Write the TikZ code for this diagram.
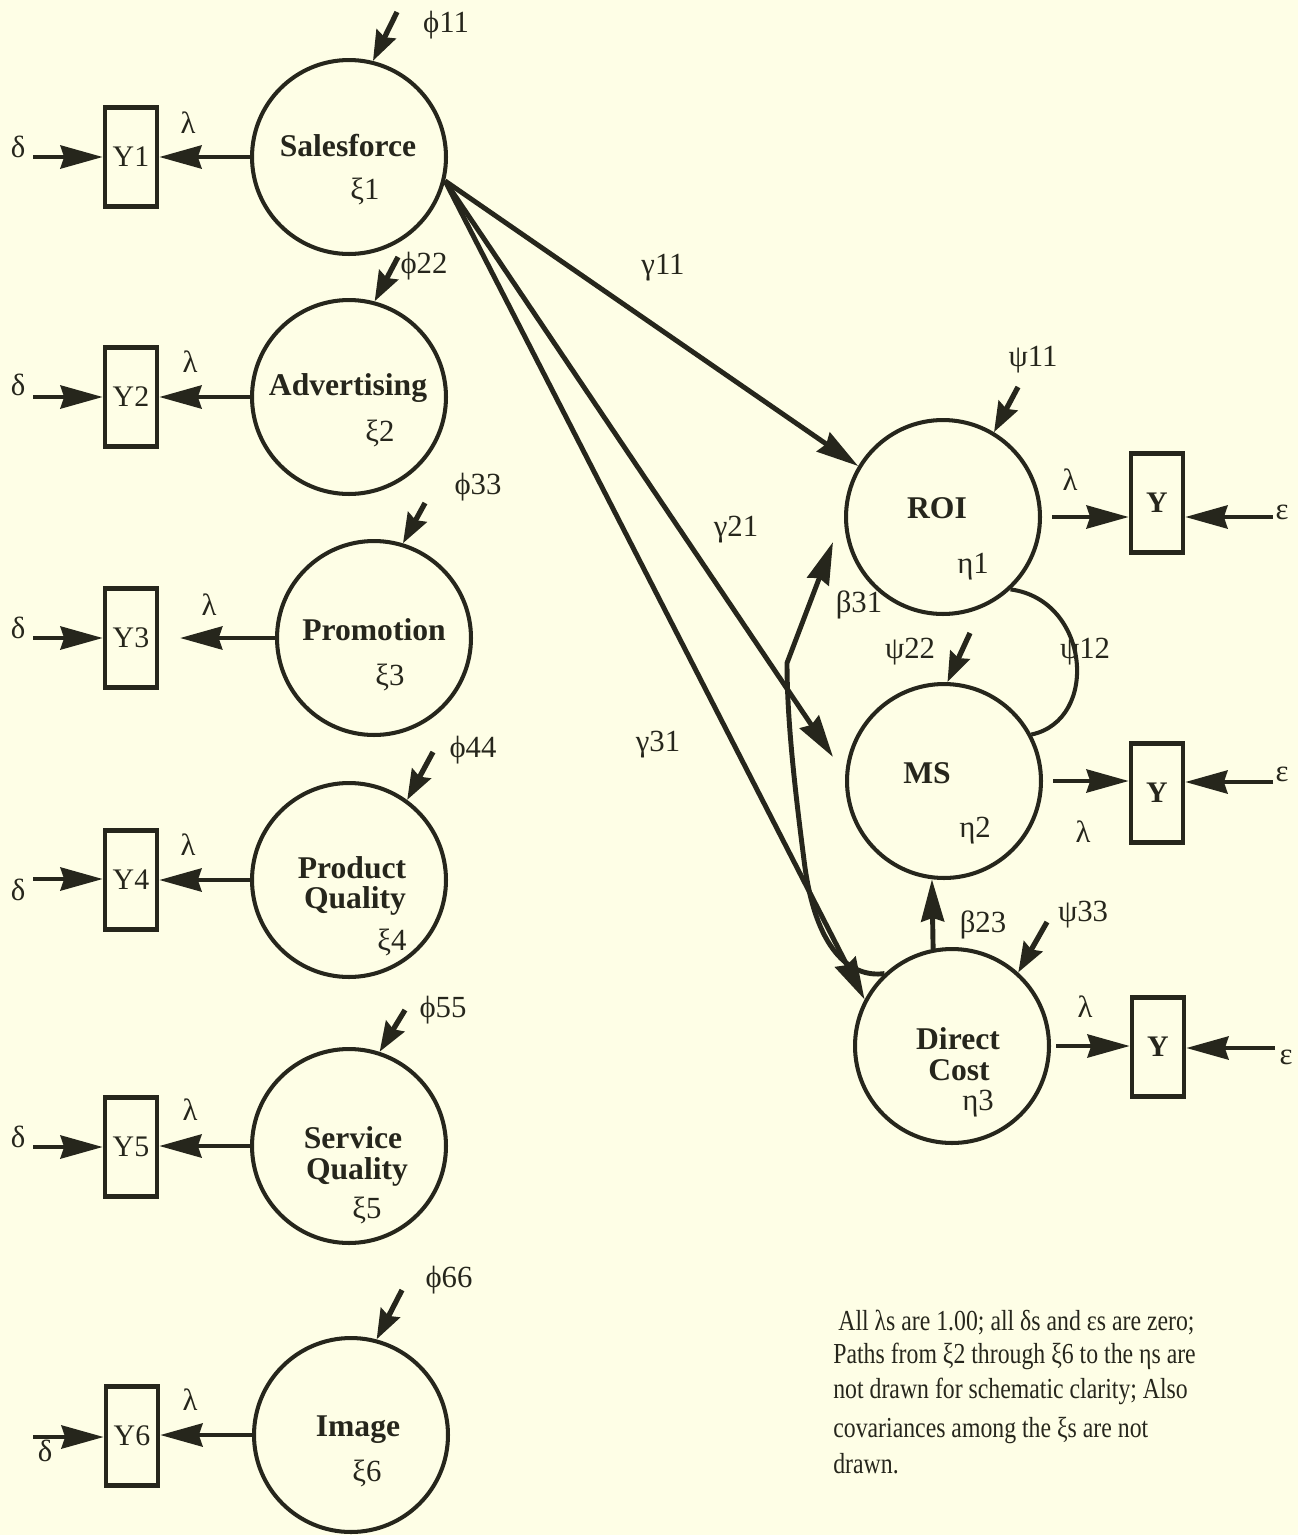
\documentclass[tikz,border=0pt]{standalone}
\usepackage{fontspec}
\setmainfont{Liberation Serif}
\newfontfamily\notefont[FakeStretch=0.82]{Liberation Serif}
\usetikzlibrary{arrows.meta}
\definecolor{bg}{RGB}{254,254,230}
\definecolor{ink}{RGB}{38,38,28}
\begin{document}
\begin{tikzpicture}[x=0.02cm,y=-0.02cm,
  latent/.style={circle,draw=ink,line width=2.3pt,minimum size=3.88cm,inner sep=0pt},
  obs/.style={rectangle,draw=ink,line width=2.5pt,minimum width=1.04cm,minimum height=1.98cm,inner sep=0pt,font=\fontsize{17}{18}\selectfont,text=ink},
  obsb/.style={obs,font=\bfseries\fontsize{17}{18}\selectfont},
  lname/.style={font=\bfseries\fontsize{18}{19}\selectfont,text=ink,inner sep=0pt},
  greek/.style={font=\fontsize{17.5}{19}\selectfont,text=ink,inner sep=0pt},
  conn/.style={draw=ink,line width=2.8pt,-{Stealth[length=24pt,width=13pt,inset=2pt]}},
  dist/.style={draw=ink,line width=3pt,-{Stealth[length=17pt,width=12pt,inset=2pt]}},
  covarc/.style={draw=ink,line width=2.3pt},
  note/.style={font=\notefont\fontsize{16.5}{18}\selectfont,text=ink,anchor=base west,inner sep=0pt}
]
\useasboundingbox (0,0) rectangle (1298,1535);
\fill[bg] (0,0) rectangle (1298,1535);

% ---------- exogenous latent variables ----------
\node[latent] (sf)    at (349,157) {};
\node[latent] (adv)   at (349,397) {};
\node[latent] (promo) at (374,638) {};
\node[latent] (pq)    at (349,880) {};
\node[latent] (sq)    at (349,1146) {};
\node[latent] (img)   at (351,1435) {};

\node[lname] (sft)  at (348,146) {Salesforce};
\node[greek] (sfx)  at (365,191) {ξ1};
\node[lname] (advt) at (348,388) {Advertising};
\node[greek] (advx) at (380,433) {ξ2};
\node[lname] (prt)  at (374,630) {Promotion};
\node[greek] (prx)  at (390,677) {ξ3};
\node[lname] (pqt1) at (352,868) {Product};
\node[lname] (pqt2) at (355,901) {Quality};
\node[greek] (pqx)  at (392,942) {ξ4};
\node[lname] (sqt1) at (353,1138) {Service};
\node[lname] (sqt2) at (357,1172) {Quality};
\node[greek] (sqx)  at (367,1210) {ξ5};
\node[lname] (imt)  at (358,1430) {Image};
\node[greek] (imx)  at (367,1473) {ξ6};

% ---------- indicators (left) ----------
\node[obs] (y1) at (131,157)  {Y1};
\node[obs] (y2) at (131,397)  {Y2};
\node[obs] (y3) at (131,638)  {Y3};
\node[obs] (y4) at (131,880)  {Y4};
\node[obs] (y5) at (131,1147) {Y5};
\node[obs] (y6) at (132,1436) {Y6};

% lambda loadings
\draw[conn] (sf.west) -- (sf.west -| y1.east);
\draw[conn] (adv.west) -- (adv.west -| y2.east);
\coordinate (y3tip) at (180,638);
\draw[conn] (promo.west) -- (y3tip);
\draw[conn] (pq.west) -- (pq.west -| y4.east);
\draw[conn] (sq.west) -- (sq.west -| y5.east);
\draw[conn] (img.west) -- (img.west -| y6.east);

\node[greek] (l1) at (188,123)  {λ};
\node[greek] (l2) at (190,362)  {λ};
\node[greek] (l3) at (209,605)  {λ};
\node[greek] (l4) at (188,845)  {λ};
\node[greek] (l5) at (190,1110) {λ};
\node[greek] (l6) at (190,1400) {λ};

% delta errors
\coordinate (d1s) at (33,157);
\coordinate (d2s) at (33,397);
\coordinate (d3s) at (33,638);
\coordinate (d4s) at (33,879);
\coordinate (d5s) at (33,1147);
\coordinate (d6s) at (33,1437);
\draw[conn] (d1s) -- (d1s -| y1.west);
\draw[conn] (d2s) -- (d2s -| y2.west);
\draw[conn] (d3s) -- (d3s -| y3.west);
\draw[conn] (d4s) -- (d4s -| y4.west);
\draw[conn] (d5s) -- (d5s -| y5.west);
\draw[conn] (d6s) -- (d6s -| y6.west);
\node[greek] (dl1) at (18,147)  {δ};
\node[greek] (dl2) at (18,385)  {δ};
\node[greek] (dl3) at (18,628)  {δ};
\node[greek] (dl4) at (18,890)  {δ};
\node[greek] (dl5) at (18,1137) {δ};
\node[greek] (dl6) at (45,1451) {δ};

% phi disturbances
\coordinate (p1s) at (397,12);
\coordinate (p2s) at (398,257);
\coordinate (p3s) at (425,503);
\coordinate (p4s) at (433,752);
\coordinate (p5s) at (405,1010);
\coordinate (p6s) at (402,1290);
\draw[dist] (p1s) -- (sf.76);
\draw[dist] (p2s) -- (adv.75);
\draw[dist] (p3s) -- (promo.73);
\draw[dist] (p4s) -- (pq.54);
\draw[dist] (p5s) -- (sq.72);
\draw[dist] (p6s) -- (img.75);
\node[greek] (ph1) at (446,25)   {ϕ11};
\node[greek] (ph2) at (424,266)  {ϕ22};
\node[greek] (ph3) at (478,487)  {ϕ33};
\node[greek] (ph4) at (473,750)  {ϕ44};
\node[greek] (ph5) at (443,1010) {ϕ55};
\node[greek] (ph6) at (449,1280) {ϕ66};

% ---------- endogenous latent variables ----------
\node[latent] (roi) at (943,517)  {};
\node[latent] (ms)  at (944,781)  {};
\node[latent] (dc)  at (952,1046) {};
\node[lname] (roit) at (937,508)  {ROI};
\node[greek] (roix) at (973,567)  {η1};
\node[lname] (mst)  at (927,773)  {MS};
\node[greek] (msx)  at (975,831)  {η2};
\node[lname] (dct1) at (958,1039) {Direct};
\node[lname] (dct2) at (959,1070) {Cost};
\node[greek] (dcx)  at (978,1104) {η3};

% indicators (right)
\node[obsb] (yr1) at (1157,503)  {Y};
\node[obsb] (yr2) at (1157,793)  {Y};
\node[obsb] (yr3) at (1158,1047) {Y};

\draw[conn, shorten <=0.2cm] (roi.east) -- (roi.east -| yr1.west);
\draw[conn, shorten <=0.2cm] (ms.east) -- (ms.east -| yr2.west);
\draw[conn, shorten <=0.1cm] (dc.east) -- (dc.east -| yr3.west);
\node[greek] (lr1) at (1070,480)  {λ};
\node[greek] (lr2) at (1083,832)  {λ};
\node[greek] (lr3) at (1085,1007) {λ};

\coordinate (e1s) at (1273,517);
\coordinate (e2s) at (1273,782);
\coordinate (e3s) at (1275,1048);
\draw[conn] (e1s) -- (e1s -| yr1.east);
\draw[conn] (e2s) -- (e2s -| yr2.east);
\draw[conn] (e3s) -- (e3s -| yr3.east);
\node[greek] (el1) at (1282,512)  {ε};
\node[greek] (el2) at (1282,774)  {ε};
\node[greek] (el3) at (1286,1057) {ε};

% psi disturbances
\coordinate (s1s) at (1018,387);
\coordinate (s2s) at (970,633);
\coordinate (s3s) at (1047,922);
\draw[dist] (s1s) -- (roi.59);
\draw[dist] (s2s) -- (ms.88);
\draw[dist] (s3s) -- (dc.48);
\node[greek] (ps1) at (1033,360) {ψ11};
\node[greek] (ps2) at (910,652)  {ψ22};
\node[greek] (ps3) at (1083,915) {ψ33};

% psi12 covariance
\draw[covarc] (roi.-47) .. controls (1090,600) and (1100,720) .. (ms.28);
\node[greek] (ps12) at (1085,652) {ψ12};

% gamma paths
\coordinate (g21end) at (833,757);
\draw[conn] (sf.-14) -- (roi.149);
\draw[conn] (sf.-14) -- (g21end);
\draw[conn] (sf.-14) -- (dc.152);
\node[greek] (g11) at (663,268) {γ11};
\node[greek] (g21) at (736,530) {γ21};
\node[greek] (g31) at (658,745) {γ31};

% beta paths
\draw[conn] (dc.101) -- (ms.-97);
\node[greek] (b23) at (983,925) {β23};
\coordinate (b31corner) at (787,663);
\coordinate (b31tip) at (833,542);
\draw[conn] (dc.133) .. controls (850,978) and (815,950) .. (804,860)
   .. controls (795,790) and (787,720) .. (b31corner) -- (b31tip);
\node[greek] (b31) at (859,605) {β31};

% note
\node[note] (n1) at (838,1330) {All λs are 1.00; all δs and εs are zero;};
\node[note] (n2) at (833,1363) {Paths from ξ2 through ξ6 to the ηs are};
\node[note] (n3) at (833,1398) {not drawn for schematic clarity; Also};
\node[note] (n4) at (833,1437) {covariances among the ξs are not};
\node[note] (n5) at (833,1473) {drawn.};
\end{tikzpicture}
\end{document}
